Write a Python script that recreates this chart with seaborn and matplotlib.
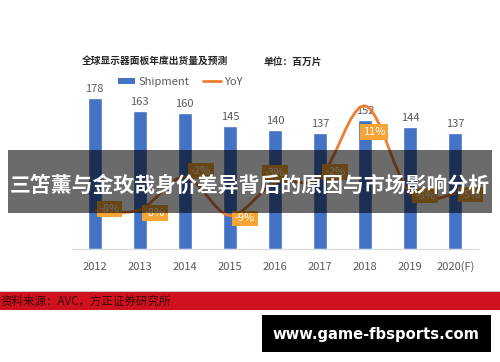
import matplotlib
matplotlib.use("Agg")
import matplotlib.pyplot as plt
from matplotlib.patches import Rectangle, Patch, PathPatch
from matplotlib.lines import Line2D
from matplotlib.path import Path
import numpy as np
import pandas as pd
import seaborn as sns

# data
years = ["2012", "2013", "2014", "2015", "2016", "2017", "2018", "2019", "2020(F)"]
shipment = [178, 163, 160, 145, 140, 137, 152, 144, 137]
yoy = [-8, -8, -2, -9, -3, -2, 11, -5, -5]

chart_title = "全球显示器面板年度出货量及预测"
unit_text = "单位：百万片"
banner_text = "三笘薰与金玫哉身价差异背后的原因与市场影响分析"
source_text = "资料来源：AVC，方正证券研究所"
site_text = "www.game-fbsports.com"

BLUE = "#4472C4"
ORANGE = "#ED7D31"
BOX = "#F6A534"
GRAY = "#595959"

sns.set_theme(style="white")
plt.rcParams['font.family'] = ['Noto Sans CJK SC', 'DejaVu Sans']

W, H = 500, 362
fig = plt.figure(figsize=(W / 100, H / 100), dpi=100)
fig.patch.set_facecolor("white")

def px_box(x0, y0, x1, y1):
    # pixel box (top-left origin) -> figure fraction rect
    return [x0 / W, 1 - y1 / H, (x1 - x0) / W, (y1 - y0) / H]

ax = fig.add_axes(px_box(72, 90, 478, 249))
df = pd.DataFrame({"year": years, "shipment": shipment, "yoy": yoy})

sns.barplot(data=df, x="year", y="shipment", color=BLUE, width=0.31,
            saturation=1, ax=ax, zorder=2)
ax.set_xlim(-0.5, len(years) - 0.5)
ax.set_ylim(0, 187.5)
ax.bar_label(ax.containers[0], padding=3, fontsize=8, color=GRAY)
ax.set_xlabel("")
ax.set_ylabel("")
ax.set_yticks([])
ax.tick_params(axis="x", length=0, pad=9, labelsize=8, labelcolor=GRAY)
for s in ["top", "right", "left"]:
    ax.spines[s].set_visible(False)
ax.spines["bottom"].set_color("#D9D9D9")
ax.spines["bottom"].set_linewidth(0.8)
ax.set_facecolor("none")

# YoY on secondary axis, smoothed like Excel
ax2 = ax.twinx()
ax2.set_ylim(-15.13, 13.92)
ax2.set_axis_off()
xs = np.arange(len(yoy), dtype=float)
ys = np.array(yoy, dtype=float)
verts = [(xs[0], ys[0])]
codes = [Path.MOVETO]
for i in range(len(xs) - 1):
    p0 = np.array([xs[max(i - 1, 0)], ys[max(i - 1, 0)]])
    p1 = np.array([xs[i], ys[i]])
    p2 = np.array([xs[i + 1], ys[i + 1]])
    p3 = np.array([xs[min(i + 2, len(xs) - 1)], ys[min(i + 2, len(xs) - 1)]])
    c1 = p1 + (p2 - p0) / 6
    c2 = p2 - (p3 - p1) / 6
    verts += [tuple(c1), tuple(c2), tuple(p2)]
    codes += [Path.CURVE4] * 3
ax2.add_patch(PathPatch(Path(verts, codes), facecolor="none", edgecolor=ORANGE,
                        lw=2, zorder=3))

label_offsets = [(15, 1), (15, -3), (16, 6), (15, -3), (0, 10), (15, 5), (9, -26), (15, -2), (15, -1)]
for i, v in enumerate(yoy):
    ax2.annotate(f"{v}%", (i, v), xytext=label_offsets[i], textcoords="offset pixels",
                 ha="center", va="center", fontsize=8, color="white", zorder=4,
                 bbox=dict(boxstyle="square,pad=0.25", fc=BOX, ec="none"))

# titles and legend
fig.text(82 / W, 1 - 62 / H, chart_title, fontsize=7, fontweight="bold",
         color="#262626", va="center", ha="left")
fig.text(263 / W, 1 - 62 / H, unit_text, fontsize=7, fontweight="bold",
         color="#262626", va="center", ha="left")
handles = [Patch(facecolor=BLUE, edgecolor="none", label="Shipment"),
           Line2D([0], [0], color=ORANGE, lw=2, label="YoY")]
leg = fig.legend(handles=handles, loc="center", bbox_to_anchor=(180 / W, 1 - 82 / H),
                 ncol=2, frameon=False, fontsize=8, handlelength=1.6, handleheight=0.5,
                 columnspacing=1.2, handletextpad=0.3)
for t in leg.get_texts():
    t.set_color(GRAY)

# dark banner over the chart
fig.add_artist(Rectangle((8 / W, 1 - 213 / H), 484 / W, 63 / H, transform=fig.transFigure,
                         facecolor="black", alpha=0.58, edgecolor="none", zorder=10))
fig.text(250 / W, 1 - 185 / H, banner_text, fontsize=15, fontweight="bold", color="white",
         ha="center", va="center", zorder=11)

# red source band
fig.add_artist(Line2D([0, 1], [1 - 291 / H] * 2, color="#CCCCCC", lw=0.8,
                      transform=fig.transFigure, zorder=10))
fig.add_artist(Rectangle((0, 1 - 310 / H), 1, 18 / H, transform=fig.transFigure,
                         facecolor="#D0121F", edgecolor="none", zorder=10))
fig.text(0, 1 - 301 / H, source_text, fontsize=8.3, color="#3A0508",
         ha="left", va="center", zorder=11)

# site box
fig.add_artist(Rectangle((262 / W, 1 - 352 / H), 229 / W, 37 / H, transform=fig.transFigure,
                         facecolor="black", edgecolor="none", zorder=10))
fig.text(376 / W, 1 - 334 / H, site_text, fontsize=10.6, fontweight="bold", color="white",
         ha="center", va="center", zorder=11, family=["DejaVu Sans"])

fig.savefig("out.png", dpi=100)
